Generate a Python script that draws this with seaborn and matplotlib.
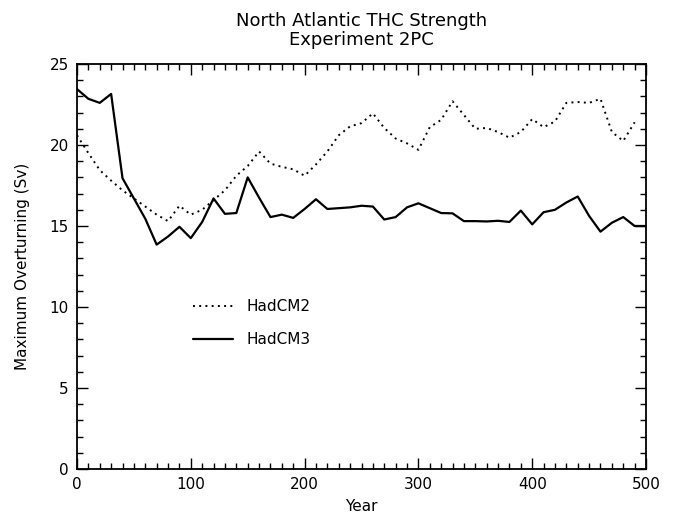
import numpy as np
import pandas as pd
import seaborn as sns
import matplotlib
matplotlib.use("Agg")
import matplotlib.pyplot as plt
from matplotlib.ticker import MultipleLocator

# values (every 10 years)
years_cm3 = list(range(0, 510, 10))
hadcm3 = [23.45, 22.85, 22.6, 23.15, 17.95, 16.7, 15.45, 13.85, 14.35, 14.95,
          14.25, 15.25, 16.7, 15.75, 15.8, 18.0, 16.75, 15.55, 15.7, 15.5,
          16.05, 16.65, 16.05, 16.1, 16.15, 16.25, 16.2, 15.4, 15.55, 16.15,
          16.4, 16.1, 15.8, 15.78, 15.3, 15.3, 15.28, 15.32, 15.25, 15.95,
          15.1, 15.85, 16.0, 16.45, 16.82, 15.62, 14.65, 15.2, 15.55, 15.0,
          15.0]

years_cm2 = list(range(0, 500, 10))
hadcm2 = [20.6, 19.5, 18.45, 17.8, 17.2, 16.7, 16.2, 15.7, 15.3, 16.25,
          15.7, 16.0, 16.6, 17.2, 18.1, 18.7, 19.6, 18.85, 18.65, 18.5,
          18.1, 18.8, 19.6, 20.6, 21.15, 21.35, 21.95, 21.05, 20.4, 20.1,
          19.7, 21.1, 21.55, 22.7, 21.85, 21.0, 21.05, 20.8, 20.45, 20.8,
          21.6, 21.1, 21.45, 22.6, 22.65, 22.6, 22.85, 20.8, 20.25, 21.4]

title = "North Atlantic THC Strength\nExperiment 2PC"


def main():
    sns.set_style("ticks")
    plt.rcParams["font.family"] = ["DejaVu Sans"]
    plt.rcParams["text.color"] = "black"
    plt.rcParams["axes.labelcolor"] = "black"
    plt.rcParams["xtick.color"] = "black"
    plt.rcParams["ytick.color"] = "black"

    fig = plt.figure(figsize=(6.73, 5.16), dpi=100)
    ax = fig.add_axes([0.1144, 0.0911, 0.8455, 0.7849])

    df2 = pd.DataFrame({"Year": years_cm2, "Sv": hadcm2})
    df3 = pd.DataFrame({"Year": years_cm3, "Sv": hadcm3})
    sns.lineplot(data=df2, x="Year", y="Sv", ax=ax, color="black",
                 linewidth=1.4, dashes=False, label="HadCM2")
    ax.lines[-1].set_linestyle((0, (1, 2.2)))
    sns.lineplot(data=df3, x="Year", y="Sv", ax=ax, color="black",
                 linewidth=1.6, label="HadCM3")

    ax.set_xlim(0, 500)
    ax.set_ylim(0, 25)
    ax.xaxis.set_major_locator(MultipleLocator(100))
    ax.xaxis.set_minor_locator(MultipleLocator(10))
    ax.yaxis.set_major_locator(MultipleLocator(5))
    ax.yaxis.set_minor_locator(MultipleLocator(1))
    ax.tick_params(which="both", direction="in", top=True, right=True,
                   labelsize=11, width=1.0)
    ax.tick_params(which="major", length=8, pad=6)
    ax.tick_params(which="minor", length=4)
    for s in ax.spines.values():
        s.set_linewidth(1.3)
        s.set_color("black")

    ax.set_xlabel("Year", fontsize=11, labelpad=5)
    ax.set_ylabel("Maximum Overturning (Sv)", fontsize=11, labelpad=14)
    ax.set_title(title, fontsize=13, pad=14, linespacing=1.05)

    ax.legend(loc="center left", bbox_to_anchor=(0.18, 0.36),
              frameon=False, fontsize=11, handlelength=2.6,
              handletextpad=0.9, labelspacing=1.15)

    fig.savefig("out.png", dpi=100)


if __name__ == "__main__":
    main()
